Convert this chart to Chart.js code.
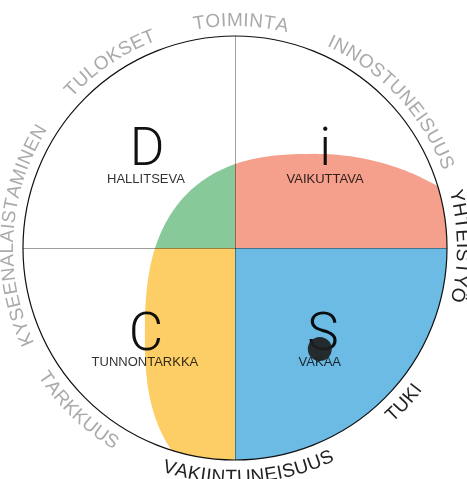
<!DOCTYPE html>
<html>
<head>
<meta charset="utf-8">
<script src="https://cdn.jsdelivr.net/npm/chart.js@4.4.0/dist/chart.umd.min.js"></script>
<style>
  html, body { margin: 0; padding: 0; background: #fff; overflow: hidden; }
  canvas { display: block; }
</style>
</head>
<body>
<canvas id="disc" width="467" height="479"></canvas>
<script>
// Kvadrantit ja tyylien nimet
const quadrants = ['D', 'i', 'S', 'C'];
const styleNames = ['HALLITSEVA', 'VAIKUTTAVA', 'VAKAA', 'TUNNONTARKKA'];

// Prioriteetit kehällä (kulma asteina myötäpäivään ylhäältä)
const priorities = ['TOIMINTA', 'INNOSTUNEISUUS', 'YHTEISTYÖ', 'TUKI', 'VAKIINTUNEISUUS', 'TARKKUUS', 'KYSEENALAISTAMINEN', 'TULOKSET'];
const priorityAngles = [1.5, 47, 89.5, 132.5, 176.5, 224, 273.5, 326];
const highlighted = [false, false, true, true, true, false, false, false];

// Pisteen sijainti
const dotPoint = [{ x: 0.40, y: -0.476 }];

// Varjostus: keskipiste, puoliakselit [vasen, oikea], [ylös, alas],
// eksponentit neljänneksittäin [vasen ylä, oikea ylä, oikea ala, vasen ala]
const shadeCenter = [0.377, -0.410];
const shadeHalfWidths = [0.802, 1.014];
const shadeHalfHeights = [0.854, 0.807];
const shadeExponents = [2.6, 2.0, 2.0, 2.6];

const quadrantColors = ['#88c99a', '#f5a08c', '#6bbbe4', '#fdce66'];

const FONT = '"Liberation Sans", Arial, sans-serif';

function arcText(ctx, text, cx, cy, r, angleDeg, clockwise) {
  const chars = text.split('');
  const widths = chars.map(c => ctx.measureText(c).width + 0.4);
  const total = widths.reduce((a, b) => a + b, 0);
  const center = angleDeg * Math.PI / 180;
  let acc = 0;
  chars.forEach((c, i) => {
    const off = (acc + widths[i] / 2 - total / 2) / r;
    const a = clockwise ? center + off : center - off;
    ctx.save();
    ctx.translate(cx + r * Math.sin(a), cy - r * Math.cos(a));
    ctx.rotate(clockwise ? a : a - Math.PI);
    ctx.fillText(c, 0, 0);
    ctx.restore();
    acc += widths[i];
  });
}

const discPlugin = {
  id: 'disc',
  beforeDatasetsDraw(chart) {
    const ctx = chart.ctx, x = chart.scales.x, y = chart.scales.y;
    const cx = x.getPixelForValue(0), cy = y.getPixelForValue(0);
    const R = x.getPixelForValue(1) - cx;

    ctx.save();
    ctx.beginPath(); ctx.arc(cx, cy, R, 0, 2 * Math.PI); ctx.clip();
    ctx.beginPath();
    for (let deg = 0; deg < 360; deg += 1) {
      const t = deg * Math.PI / 180, c = Math.cos(t), s = Math.sin(t);
      const a = c < 0 ? shadeHalfWidths[0] : shadeHalfWidths[1];
      const b = s > 0 ? shadeHalfHeights[0] : shadeHalfHeights[1];
      const q = s >= 0 ? (c < 0 ? 0 : 1) : (c < 0 ? 3 : 2);
      const e = 2 / shadeExponents[q];
      const px = x.getPixelForValue(shadeCenter[0] + a * Math.sign(c) * Math.pow(Math.abs(c), e));
      const py = y.getPixelForValue(shadeCenter[1] + b * Math.sign(s) * Math.pow(Math.abs(s), e));
      if (deg === 0) ctx.moveTo(px, py); else ctx.lineTo(px, py);
    }
    ctx.closePath();
    ctx.clip();
    const signs = [[-1, 1], [1, 1], [1, -1], [-1, -1]];
    signs.forEach((sg, i) => {
      const px = x.getPixelForValue(sg[0]), py = y.getPixelForValue(sg[1]);
      ctx.fillStyle = quadrantColors[i];
      ctx.fillRect(Math.min(cx, px), Math.min(cy, py), Math.abs(px - cx), Math.abs(py - cy));
    });
    ctx.restore();

    // Akselit
    ctx.save();
    ctx.strokeStyle = 'rgba(0,0,0,0.38)';
    ctx.lineWidth = 1;
    ctx.beginPath();
    ctx.moveTo(Math.round(cx) + 0.5, cy - R); ctx.lineTo(Math.round(cx) + 0.5, cy + R);
    ctx.moveTo(cx - R, Math.round(cy) + 0.5); ctx.lineTo(cx + R, Math.round(cy) + 0.5);
    ctx.stroke();
    // Ulkoympyrä
    ctx.strokeStyle = '#111';
    ctx.lineWidth = 1.2;
    ctx.beginPath(); ctx.arc(cx, cy, R, 0, 2 * Math.PI); ctx.stroke();

    // Kirjaimet ja nimet
    const letterPos = [[-0.415, 0.39], [0.425, 0.39], [0.415, -0.48], [-0.42, -0.48]];
    const namePos = [[-0.42, 0.325], [0.425, 0.325], [0.40, -0.54], [-0.425, -0.54]];
    ctx.globalCompositeOperation = 'multiply';
    ctx.textAlign = 'center';
    quadrants.forEach((q, i) => {
      ctx.fillStyle = '#111';
      ctx.font = '300 53px Roboto, ' + FONT;
      ctx.textBaseline = 'alphabetic';
      ctx.fillText(q, x.getPixelForValue(letterPos[i][0]), y.getPixelForValue(letterPos[i][1]));
      ctx.fillStyle = '#333';
      ctx.font = '13px ' + FONT;
      ctx.textBaseline = 'middle';
      ctx.fillText(styleNames[i], x.getPixelForValue(namePos[i][0]), y.getPixelForValue(namePos[i][1]));
    });
    ctx.restore();
  },
  afterDraw(chart) {
    const ctx = chart.ctx, x = chart.scales.x, y = chart.scales.y;
    const cx = x.getPixelForValue(0), cy = y.getPixelForValue(0);
    const R = x.getPixelForValue(1) - cx;
    ctx.save();
    ctx.font = '19px ' + FONT;
    ctx.textAlign = 'center';
    ctx.textBaseline = 'alphabetic';
    priorities.forEach((p, i) => {
      const a = priorityAngles[i];
      const bottom = a > 100 && a < 260;
      ctx.fillStyle = highlighted[i] ? '#222' : '#aaa';
      arcText(ctx, p, cx, cy, bottom ? R + 23 : R + 10, a, !bottom);
    });
    ctx.restore();
  }
};

new Chart(document.getElementById('disc'), {
  type: 'scatter',
  data: {
    datasets: [{
      data: dotPoint,
      pointRadius: 12,
      pointHoverRadius: 12,
      backgroundColor: 'rgba(30,30,30,0.92)',
      borderWidth: 0
    }]
  },
  options: {
    responsive: false,
    animation: false,
    devicePixelRatio: 1,
    layout: { padding: { left: 23, right: 20, top: 36, bottom: 19 } },
    scales: {
      x: { type: 'linear', min: -1, max: 1, display: false },
      y: { type: 'linear', min: -1, max: 1, display: false }
    },
    plugins: { legend: { display: false }, tooltip: { enabled: false } }
  },
  plugins: [discPlugin]
});
</script>
</body>
</html>
